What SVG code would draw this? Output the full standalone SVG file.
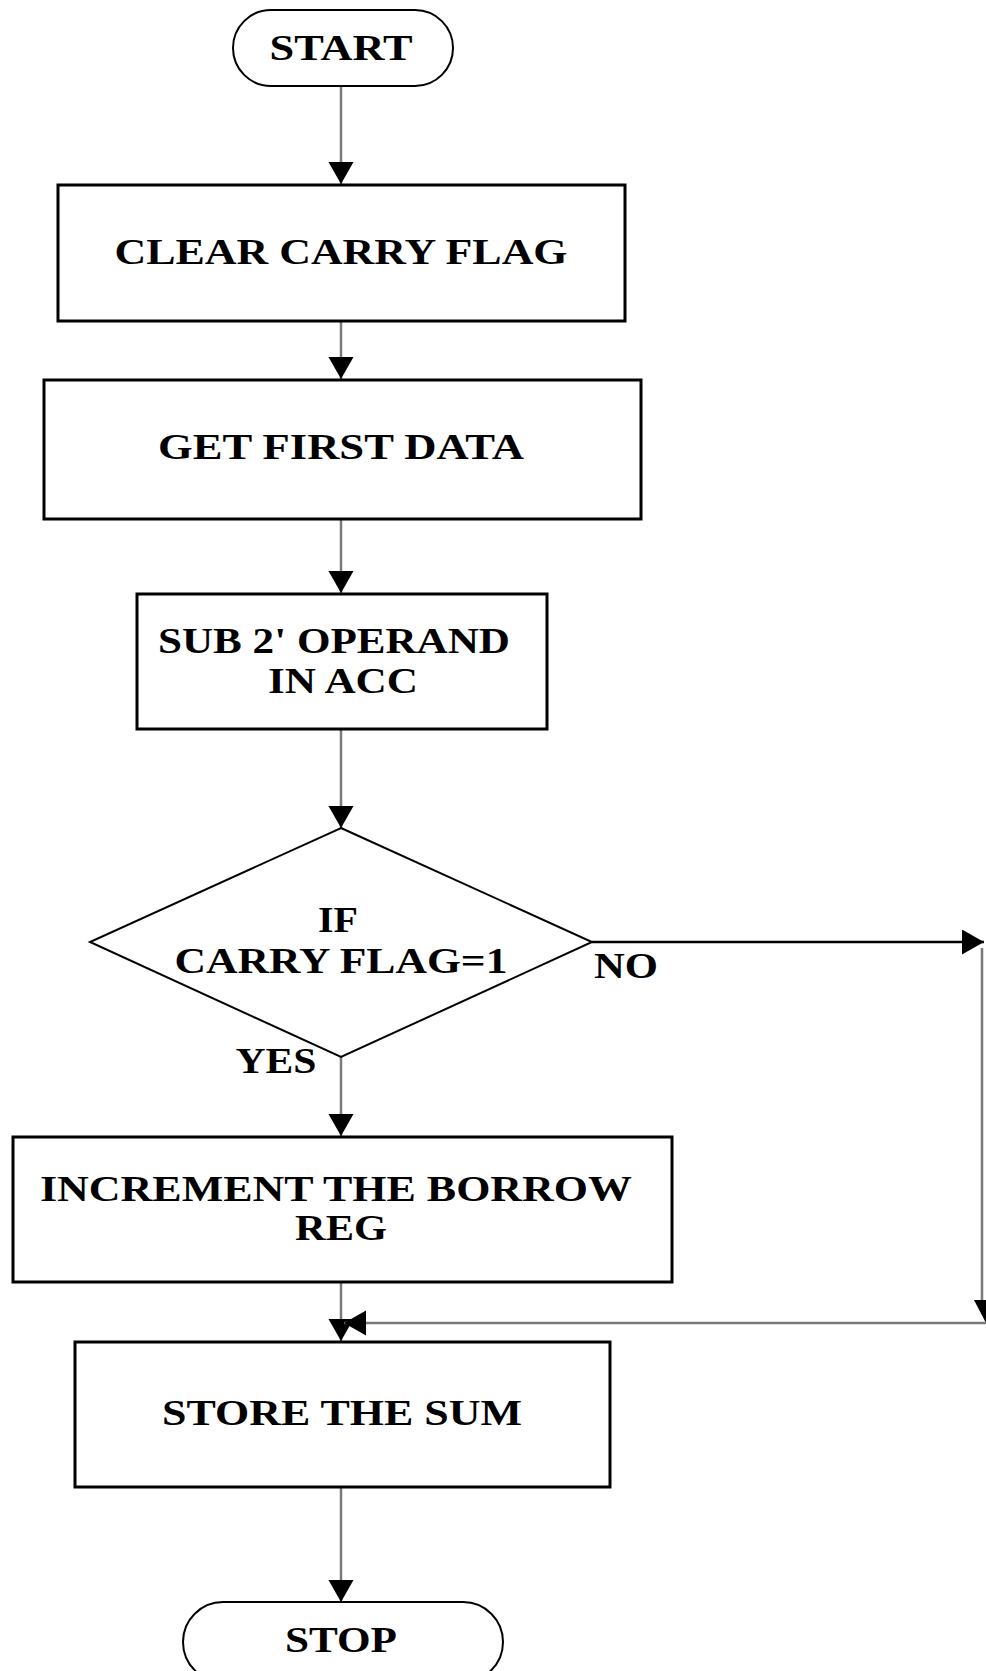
<svg xmlns="http://www.w3.org/2000/svg" width="986" height="1671" viewBox="0 0 986 1671">
<style>
.box{fill:#fff;stroke:#000;stroke-width:3}
.dia{fill:#fff;stroke:#000;stroke-width:2}
.con{fill:none;stroke:#7a7a7a;stroke-width:2.5}
.conb{fill:none;stroke:#000;stroke-width:2.5}
.t{font-family:"Liberation Serif","Times New Roman",serif;font-weight:bold;font-size:35px;fill:#000;text-anchor:middle}
</style>
<defs>
<marker id="ah" markerUnits="userSpaceOnUse" markerWidth="24" markerHeight="26" refX="22" refY="12.5" orient="auto" viewBox="0 0 24 26">
<path d="M0,0 L22,12.5 L0,25 Z" fill="#000"/>
</marker>
</defs>
<rect width="986" height="1671" fill="#fff"/>
<g id="connectors">
<line class="con" x1="341" y1="86" x2="341" y2="184" marker-end="url(#ah)"/>
<line class="con" x1="341" y1="322" x2="341" y2="379" marker-end="url(#ah)"/>
<line class="con" x1="341" y1="520" x2="341" y2="593" marker-end="url(#ah)"/>
<line class="con" x1="341" y1="730" x2="341" y2="828" marker-end="url(#ah)"/>
<line class="con" x1="341" y1="1057" x2="341" y2="1136" marker-end="url(#ah)"/>
<line class="con" x1="341" y1="1283" x2="341" y2="1341" marker-end="url(#ah)"/>
<line class="con" x1="341" y1="1488" x2="341" y2="1602" marker-end="url(#ah)"/>
<line class="conb" x1="592" y1="942" x2="984" y2="942" marker-end="url(#ah)"/>
<line class="con" x1="982" y1="948" x2="982" y2="1306" stroke="#444"/>
<polygon points="974,1300 998,1300 986,1323" fill="#000"/>
<line class="con" x1="986" y1="1323" x2="344" y2="1323" stroke="#444" marker-end="url(#ah)"/>
<text class="t" x="626" y="978" textLength="64" lengthAdjust="spacingAndGlyphs">NO</text>
<text class="t" x="276" y="1073" textLength="81" lengthAdjust="spacingAndGlyphs">YES</text>
</g>
<g id="start">
<rect class="dia" x="233" y="10" width="220" height="76" rx="38"/>
<text class="t" x="341" y="60" textLength="143" lengthAdjust="spacingAndGlyphs">START</text>
</g>
<g id="clear">
<rect class="box" x="58" y="185" width="567" height="136"/>
<text class="t" x="341" y="264" textLength="453" lengthAdjust="spacingAndGlyphs">CLEAR CARRY FLAG</text>
</g>
<g id="getfirst">
<rect class="box" x="44" y="380" width="597" height="139"/>
<text class="t" x="341" y="459" textLength="366" lengthAdjust="spacingAndGlyphs">GET FIRST DATA</text>
</g>
<g id="sub">
<rect class="box" x="137" y="594" width="410" height="135"/>
<text class="t" x="334" y="653" textLength="352" lengthAdjust="spacingAndGlyphs">SUB 2' OPERAND</text>
<text class="t" x="343" y="693" textLength="150" lengthAdjust="spacingAndGlyphs">IN ACC</text>
</g>
<g id="decision">
<polygon class="dia" points="341,828 592,942 341,1057 90,942"/>
<text class="t" x="338" y="932" textLength="40" lengthAdjust="spacingAndGlyphs">IF</text>
<text class="t" x="341" y="973" textLength="333" lengthAdjust="spacingAndGlyphs">CARRY FLAG=1</text>
</g>
<g id="increment">
<rect class="box" x="13" y="1137" width="659" height="145"/>
<text class="t" x="336" y="1201" textLength="592" lengthAdjust="spacingAndGlyphs">INCREMENT THE BORROW</text>
<text class="t" x="341" y="1240" textLength="92" lengthAdjust="spacingAndGlyphs">REG</text>
</g>
<g id="store">
<rect class="box" x="75" y="1342" width="535" height="145"/>
<text class="t" x="342" y="1425" textLength="360" lengthAdjust="spacingAndGlyphs">STORE THE SUM</text>
</g>
<g id="stop">
<rect class="dia" x="183" y="1602" width="320" height="80" rx="40"/>
<text class="t" x="341" y="1652" textLength="112" lengthAdjust="spacingAndGlyphs">STOP</text>
</g>
</svg>
